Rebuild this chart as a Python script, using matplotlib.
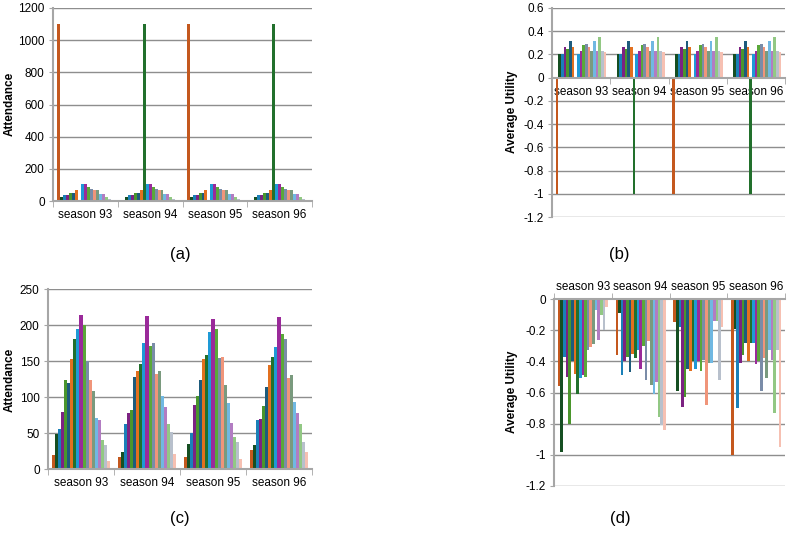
import matplotlib
matplotlib.use("Agg")
import matplotlib.pyplot as plt
import numpy as np

plt.rcParams['font.family'] = ['Liberation Sans', 'DejaVu Sans']

seasons = ["season 93", "season 94", "season 95", "season 96"]

colors = ["#C4581E", "#164F22", "#1A80B8", "#7C2282", "#4A962C", "#1D5B7C",
          "#E2701F", "#22702C", "#1E9AD6", "#9A2A9A", "#5AA83A", "#7A8CA8",
          "#F0957A", "#7A9A7E", "#70B8E2", "#B27CC2", "#92C884", "#B8C0CC",
          "#F6C0B2"]

# (a) attendance, 19 series x 4 seasons
att_a = {
    "season 93": [1100, 25, 37, 37, 52, 52, 67, 0, 106, 106, 85, 73, 67, 67, 42, 42, 23, 15, 8],
    "season 94": [0, 25, 37, 37, 52, 52, 67, 1100, 106, 106, 85, 73, 67, 67, 42, 42, 23, 15, 8],
    "season 95": [1100, 25, 37, 37, 52, 52, 67, 0, 106, 106, 85, 73, 67, 67, 42, 42, 23, 15, 8],
    "season 96": [0, 25, 37, 37, 52, 52, 67, 1100, 106, 106, 85, 73, 67, 67, 42, 42, 23, 15, 8],
}
# (b) average utility
util_b = {
    "season 93": [-1, 0.20, 0.20, 0.26, 0.25, 0.32, 0.26, 0, 0.20, 0.23, 0.28, 0.29, 0.265, 0.23, 0.32, 0.23, 0.35, 0.23, 0.22],
    "season 94": [0, 0.20, 0.20, 0.26, 0.25, 0.32, 0.26, -1, 0.20, 0.23, 0.28, 0.29, 0.265, 0.23, 0.32, 0.23, 0.35, 0.23, 0.22],
    "season 95": [-1, 0.20, 0.20, 0.26, 0.25, 0.32, 0.26, 0, 0.20, 0.23, 0.28, 0.29, 0.265, 0.23, 0.32, 0.23, 0.35, 0.23, 0.22],
    "season 96": [0, 0.20, 0.20, 0.26, 0.25, 0.32, 0.26, -1, 0.20, 0.23, 0.28, 0.29, 0.265, 0.23, 0.32, 0.23, 0.35, 0.23, 0.22],
}
# (c) attendance
att_c = {
    "season 93": [20, 49, 56, 79, 124, 119, 153, 180, 194, 214, 200, 150, 124, 109, 71, 68, 40, 33, 11],
    "season 94": [16, 24, 62, 78, 82, 128, 136, 146, 175, 213, 171, 175, 132, 136, 102, 86, 62, 52, 21],
    "season 95": [16, 35, 50, 89, 102, 123, 153, 159, 190, 209, 194, 154, 156, 117, 91, 64, 44, 38, 14],
    "season 96": [26, 33, 68, 70, 87, 114, 144, 156, 169, 211, 188, 181, 127, 130, 93, 78, 63, 37, 23],
}
# (d) average utility
util_d = {
    "season 93": [-0.56, -0.98, -0.37, -0.50, -0.80, -0.40, -0.48, -0.61, -0.51, -0.49, -0.50, -0.33, -0.31, -0.29, -0.07, -0.26, -0.10, -0.20, -0.05],
    "season 94": [-0.36, -0.09, -0.49, -0.40, -0.37, -0.47, -0.35, -0.38, -0.33, -0.45, -0.30, -0.52, -0.27, -0.55, -0.61, -0.53, -0.76, -0.81, -0.84],
    "season 95": [-0.15, -0.59, -0.18, -0.69, -0.63, -0.45, -0.46, -0.40, -0.45, -0.40, -0.46, -0.39, -0.68, -0.41, -0.41, -0.14, -0.14, -0.52, -0.18],
    "season 96": [-1.00, -0.19, -0.70, -0.41, -0.36, -0.28, -0.40, -0.28, -0.28, -0.42, -0.40, -0.59, -0.38, -0.51, -0.33, -0.39, -0.73, -0.33, -0.95],
}

W, H = 790, 543
fig = plt.figure(figsize=(W / 100, H / 100), dpi=100)

GRID = "#8E8E8E"
AXC = "#A6A6A6"
FS = 8.5


def add_ax(left, top, right, bottom):
    return fig.add_axes([left / W, 1 - bottom / H, (right - left) / W, (bottom - top) / H])


def draw(ax, data, ylim, ystep, fmt, xaxis_at="bottom"):
    n = len(colors)
    w = 0.87 / n
    x = np.arange(len(seasons))
    for i in range(n):
        vals = [data[s][i] for s in seasons]
        ax.bar(x + (i - (n - 1) / 2) * w, vals, width=w, color=colors[i], linewidth=0, zorder=3)
    ax.set_xlim(-0.5, len(seasons) - 0.5)
    ax.set_ylim(*ylim)
    ticks = np.round(np.arange(ylim[0], ylim[1] + ystep / 2, ystep), 6)
    ax.set_yticks(ticks)
    ax.set_yticklabels([fmt(t) for t in ticks])
    for t in ticks:
        if abs(t) > 1e-9:
            ax.axhline(t, color=GRID, lw=1.0, zorder=1)
    for sp in ax.spines.values():
        sp.set_visible(False)
    ax.spines['left'].set_visible(True)
    ax.spines['left'].set_color(AXC)
    ax.spines['left'].set_linewidth(1.5)
    ax.tick_params(axis='y', length=3, color=AXC, pad=3)
    ax.set_xticks(x)
    ax.set_xticklabels(seasons)
    ax.set_xticks(np.arange(-0.5, len(seasons)), minor=True)
    if xaxis_at == "top":
        ax.xaxis.tick_top()
        ax.xaxis.set_ticks_position('top')
        ax.spines['top'].set_visible(True)
        ax.spines['top'].set_color(AXC)
        ax.spines['top'].set_linewidth(1.5)
        ax.spines['top'].set_zorder(4)
        ax.tick_params(axis='x', which='major', length=0, pad=4)
        ax.tick_params(axis='x', which='minor', length=4, color=AXC, top=True, bottom=False)
    else:
        ax.spines['bottom'].set_visible(True)
        ax.spines['bottom'].set_position(('data', 0))
        ax.spines['bottom'].set_color(AXC)
        ax.spines['bottom'].set_linewidth(1.5)
        ax.spines['bottom'].set_zorder(4)
        ax.tick_params(axis='x', which='major', length=0, pad=6)
        ax.tick_params(axis='x', which='minor', length=4, color=AXC)
    ax.tick_params(axis='both', which='both', labelsize=FS)
    ax.set_facecolor('none')


def fmt_int(t):
    return "%d" % int(round(t))


def fmt_dec(t):
    if abs(t) < 1e-9:
        return "0"
    s = ("%.1f" % t)
    if s.endswith(".0"):
        s = s[:-2]
    return s


ax_a = add_ax(53, 8, 312, 201)
draw(ax_a, att_a, (0, 1200), 200, fmt_int)

ax_b = add_ax(552, 8, 785, 217)
draw(ax_b, util_b, (-1.2, 0.6), 0.2, fmt_dec)

ax_c = add_ax(48, 289, 312, 469)
draw(ax_c, att_c, (0, 250), 50, fmt_int)

ax_d = add_ax(554, 299, 785, 486)
draw(ax_d, util_d, (-1.2, 0.0), 0.2, fmt_dec, xaxis_at="top")

# y labels
fig.text(10 / W, 1 - 104 / H, "Attendance", rotation=90, fontsize=8.5, fontweight='bold', ha='center', va='center')
fig.text(512 / W, 1 - 112 / H, "Average Utility", rotation=90, fontsize=8.5, fontweight='bold', ha='center', va='center')
fig.text(10 / W, 1 - 380 / H, "Attendance", rotation=90, fontsize=8.5, fontweight='bold', ha='center', va='center')
fig.text(512 / W, 1 - 392 / H, "Average Utility", rotation=90, fontsize=8.5, fontweight='bold', ha='center', va='center')

# panel letters
for lab, (px, py) in {"(a)": (180, 255), "(b)": (619, 255), "(c)": (180, 519), "(d)": (620, 519)}.items():
    fig.text(px / W, 1 - py / H, lab, fontsize=12, ha='center', va='center')

fig.savefig("out.png", dpi=100)
